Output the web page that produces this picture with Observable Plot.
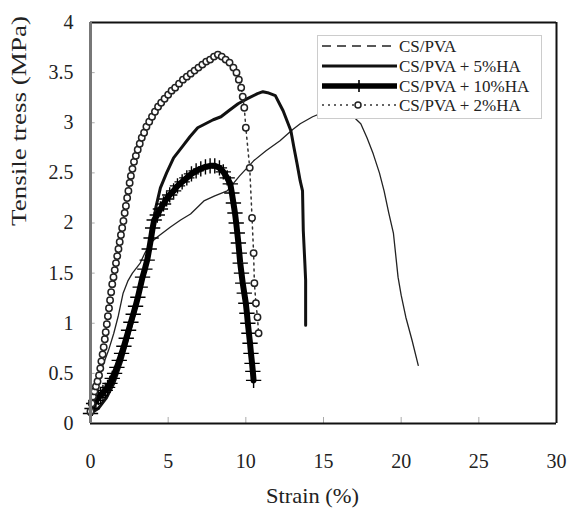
<!DOCTYPE html>
<html><head><meta charset="utf-8">
<script src="https://cdn.jsdelivr.net/npm/d3@7"></script>
<script src="https://cdn.jsdelivr.net/npm/@observablehq/plot@0.6"></script>
<style>
body{margin:0;background:#fff;}
#chart{width:569px;height:511px;}
#chart svg, #chart svg text{font-family:'Liberation Serif','Times New Roman',serif !important;}
</style></head><body><div id="chart"></div>
<script>
const xTicks = [0, 5, 10, 15, 20, 25, 30];
const yTicks = [0, 0.5, 1, 1.5, 2, 2.5, 3, 3.5, 4];
const seriesNames = ["CS/PVA", "CS/PVA + 5%HA", "CS/PVA + 10%HA", "CS/PVA + 2%HA"];

const cspvaStrain = [0,0.25,0.5,0.8,1.16,1.5,1.8,2.1,2.4,2.7,3.2,3.5,3.86,4.3,5.15,5.8,6.44,7.3,8.0,8.8,9.6,10.5,11.3,12.2,13.0,13.5,14.3,15.26,16.0,16.5,17.0,17.4,17.8,18.2,18.6,18.9,19.2,19.5,19.8,20.0,20.3,20.7,21.1];
const cspvaStress = [0.10,0.25,0.43,0.58,0.73,0.90,1.08,1.30,1.42,1.50,1.60,1.70,1.80,1.86,1.96,2.03,2.09,2.22,2.27,2.32,2.47,2.62,2.72,2.82,2.93,2.99,3.06,3.12,3.12,3.10,3.05,2.99,2.85,2.69,2.50,2.32,2.10,1.90,1.46,1.28,1.06,0.83,0.58];

const ha5Strain = [0,0.5,1.0,1.5,2.0,2.5,3.0,3.5,3.8,4.0,4.2,4.5,4.9,5.35,5.9,6.4,6.9,7.4,7.9,8.4,8.9,9.5,10.1,10.75,11.1,11.4,11.9,12.2,12.4,12.7,12.9,13.1,13.3,13.5,13.65,13.7,13.8,13.85,13.85,13.85];
const ha5Stress = [0.10,0.15,0.25,0.40,0.62,0.90,1.20,1.55,1.78,1.96,2.15,2.35,2.50,2.65,2.76,2.86,2.95,2.99,3.03,3.06,3.12,3.19,3.24,3.29,3.31,3.30,3.27,3.18,3.12,3.00,2.92,2.75,2.59,2.42,2.32,1.92,1.60,1.43,1.20,0.98];

const ha10Strain = [0.00,0.10,0.20,0.35,0.50,0.65,0.80,0.95,1.10,1.25,1.40,1.55,1.70,1.85,2.00,2.15,2.30,2.45,2.60,2.75,2.90,3.05,3.20,3.35,3.50,3.65,3.78,3.90,4.00,4.10,4.30,4.50,4.70,4.90,5.10,5.35,5.60,5.90,6.20,6.50,6.80,7.10,7.40,7.70,8.00,8.30,8.55,8.80,9.00,9.10,9.20,9.30,9.38,9.45,9.52,9.58,9.64,9.72,9.80,9.90,10.00,10.07,10.13,10.20,10.27,10.33,10.40,10.45,10.50];
const ha10Stress = [0.10,0.15,0.20,0.23,0.26,0.28,0.31,0.33,0.36,0.40,0.45,0.50,0.56,0.63,0.70,0.77,0.85,0.93,1.01,1.09,1.17,1.26,1.36,1.46,1.54,1.63,1.74,1.85,1.95,2.03,2.08,2.14,2.19,2.24,2.28,2.32,2.37,2.41,2.45,2.49,2.52,2.54,2.56,2.57,2.57,2.55,2.51,2.45,2.39,2.30,2.20,2.10,2.00,1.90,1.80,1.70,1.60,1.50,1.40,1.30,1.20,1.10,1.00,0.90,0.80,0.70,0.60,0.52,0.43];

const ha2Strain = [0.00,0.08,0.16,0.25,0.35,0.45,0.55,0.63,0.70,0.78,0.85,0.92,0.98,1.05,1.12,1.19,1.26,1.33,1.40,1.48,1.56,1.64,1.72,1.80,1.88,1.96,2.04,2.12,2.20,2.28,2.36,2.44,2.52,2.60,2.70,2.80,2.92,3.04,3.17,3.30,3.45,3.60,3.78,3.96,4.15,4.35,4.55,4.77,5.00,5.22,5.45,5.70,5.95,6.20,6.45,6.70,6.95,7.20,7.45,7.70,7.95,8.20,8.45,8.70,8.95,9.20,9.40,9.55,9.70,9.80,9.90,10.00,10.25,10.40,10.50,10.55,10.65,10.75,10.82];
const ha2Stress = [0.12,0.20,0.27,0.32,0.37,0.42,0.48,0.55,0.62,0.69,0.76,0.84,0.91,0.99,1.07,1.15,1.23,1.31,1.39,1.46,1.53,1.60,1.67,1.74,1.81,1.88,1.95,2.02,2.10,2.17,2.25,2.32,2.40,2.47,2.54,2.61,2.67,2.73,2.79,2.85,2.90,2.96,3.01,3.06,3.11,3.16,3.20,3.24,3.28,3.32,3.35,3.39,3.43,3.46,3.49,3.52,3.55,3.58,3.61,3.63,3.66,3.68,3.66,3.63,3.60,3.55,3.50,3.43,3.35,3.26,3.15,2.95,2.55,2.05,1.70,1.40,1.20,1.06,0.90];

const toRows = (xs, ys, name) => xs.map((x, i) => ({strain: x, stress: ys[i], series: name}));
const cspva = toRows(cspvaStrain, cspvaStress, seriesNames[0]);
const ha5 = toRows(ha5Strain, ha5Stress, seriesNames[1]);
const ha10 = toRows(ha10Strain, ha10Stress, seriesNames[2]);
const ha2 = toRows(ha2Strain, ha2Stress, seriesNames[3]);

const FONT = "'Liberation Serif', 'Times New Roman', serif";
const xTitle = "Strain (%)";
const yTitle = "Tensile tress (MPa)";

const plot = Plot.plot({
  width: 569, height: 511,
  marginLeft: 90, marginRight: 13, marginTop: 22, marginBottom: 88,
  style: {fontFamily: FONT, fontSize: "20px", color: "#222", background: "white", overflow: "visible"},
  x: {domain: [0, 30]},
  y: {domain: [0, 4]},
  marks: [
    Plot.axisX(xTicks, {tickSize: 0, tickPadding: 30, label: null, fontSize: 20, fontFamily: FONT, tickFormat: d => String(d)}),
    Plot.axisY(yTicks, {tickSize: 0, tickPadding: 17, label: null, fontSize: 20, fontFamily: FONT, tickFormat: d => String(d)}),
    Plot.ruleX(xTicks.slice(1, -1), {x: d => d, y1: 0, y2: 0.06, stroke: "#aaa", strokeWidth: 1}),
    Plot.ruleY(yTicks.slice(1, -1), {y: d => d, x1: 0, x2: 0.3, stroke: "#aaa", strokeWidth: 1}),
    Plot.line(cspva, {x: "strain", y: "stress", stroke: "#222", strokeWidth: 1.3}),
    Plot.line(ha5, {x: "strain", y: "stress", stroke: "#111", strokeWidth: 3}),
    Plot.line(ha10, {x: "strain", y: "stress", stroke: "#000", strokeWidth: 6}),
    Plot.dot(ha10, {x: "strain", y: "stress", symbol: "plus", r: 5, stroke: "#000", strokeWidth: 1.4}),
    Plot.line(ha2, {x: "strain", y: "stress", stroke: "#333", strokeWidth: 1.5, strokeDasharray: "2,4"}),
    Plot.dot(ha2, {x: "strain", y: "stress", symbol: "circle", r: 3.2, stroke: "#222", fill: "white", strokeWidth: 1.5}),
    Plot.ruleY([4], {stroke: "#111", strokeWidth: 2}),
    Plot.ruleX([30], {stroke: "#111", strokeWidth: 2}),
    Plot.ruleY([0], {stroke: "#111", strokeWidth: 2}),
    Plot.ruleX([0], {stroke: "#777", strokeWidth: 3}),
    Plot.text([xTitle], {frameAnchor: "bottom", dy: 79, dx: -11, fontSize: 21, fontFamily: FONT, fill: "#222"}),
    Plot.text([yTitle], {frameAnchor: "left", dx: -72, dy: 3, rotate: -90, fontSize: 22, fontFamily: FONT, fill: "#222"})
  ]
});
document.getElementById("chart").appendChild(plot);

const svg = d3.select(plot);
// stretch axis titles to the reference's wider lettering
svg.selectAll("text").each(function() {
  const t = this.textContent;
  if (t === xTitle) d3.select(this).attr("textLength", 93).attr("lengthAdjust", "spacingAndGlyphs");
  if (t === yTitle) d3.select(this).attr("textLength", 210).attr("lengthAdjust", "spacingAndGlyphs");
});

// Legend
const lg = svg.append("g").attr("class", "legend");
lg.append("rect").attr("x", 317.5).attr("y", 35.5).attr("width", 224).attr("height", 83)
  .attr("fill", "white").attr("stroke", "#ccc").attr("stroke-width", 1);
const rowsY = [46, 66, 86, 105];
const x0 = 322, x1 = 397;
lg.append("line").attr("x1", x0).attr("x2", x1).attr("y1", rowsY[0]).attr("y2", rowsY[0])
  .attr("stroke", "#222").attr("stroke-width", 1.5).attr("stroke-dasharray", "9,6");
lg.append("line").attr("x1", x0).attr("x2", x1).attr("y1", rowsY[1]).attr("y2", rowsY[1])
  .attr("stroke", "#111").attr("stroke-width", 3);
lg.append("line").attr("x1", x0).attr("x2", x1).attr("y1", rowsY[2]).attr("y2", rowsY[2])
  .attr("stroke", "#000").attr("stroke-width", 5.5);
lg.append("line").attr("x1", 359).attr("x2", 359).attr("y1", rowsY[2] - 6).attr("y2", rowsY[2] + 6)
  .attr("stroke", "#000").attr("stroke-width", 1.6);
lg.append("line").attr("x1", x0).attr("x2", x1).attr("y1", rowsY[3]).attr("y2", rowsY[3])
  .attr("stroke", "#333").attr("stroke-width", 1.5).attr("stroke-dasharray", "2,4");
lg.append("circle").attr("cx", 358).attr("cy", rowsY[3]).attr("r", 3)
  .attr("stroke", "#222").attr("fill", "white").attr("stroke-width", 1.5);
seriesNames.forEach((name, i) => {
  lg.append("text").attr("x", 399).attr("y", rowsY[i]).attr("dy", "0.35em")
    .attr("text-anchor", "start")
    .attr("font-family", FONT).attr("font-size", 17).attr("fill", "#222").text(name);
});
</script></body></html>
